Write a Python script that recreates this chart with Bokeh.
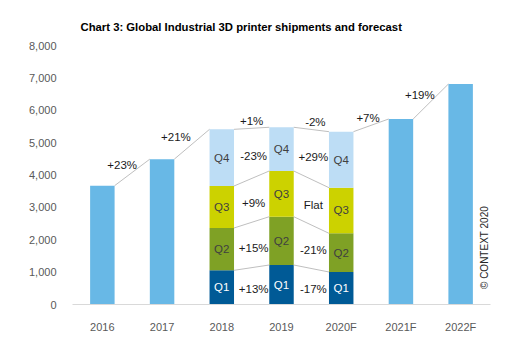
import numpy as np
from bokeh.plotting import figure
from bokeh.models import Range1d, FixedTicker, Label, ColumnDataSource
from bokeh.core.properties import value
from bokeh.embed import file_html
from bokeh.resources import INLINE

# ---- data ----
years = ["2016", "2017", "2018", "2019", "2020F", "2021F", "2022F"]
annual_years = ["2016", "2017", "2021F", "2022F"]
annual_values = [3670, 4490, 5730, 6810]
quarter_years = ["2018", "2019", "2020F"]
q1 = [1056, 1220, 1004]
q2 = [1307, 1492, 1195]
q3 = [1297, 1412, 1409]
q4 = [1751, 1350, 1730]
quarter_names = ["Q1", "Q2", "Q3", "Q4"]
yoy_labels = ["+23%", "+21%", "+1%", "-2%", "+7%", "+19%"]
q_change_2019 = ["+13%", "+15%", "+9%", "-23%"]
q_change_2020 = ["-17%", "-21%", "Flat", "+29%"]
y_ticks = [0, 1000, 2000, 3000, 4000, 5000, 6000, 7000, 8000]
title_text = "Chart 3: Global Industrial 3D printer shipments and forecast"
copyright_text = "\u00a9 CONTEXT 2020"

# ---- style ----
FONT = "Liberation Sans"
C_ANNUAL = "#68B8E6"
Q_COLORS = ["#005A96", "#7FA125", "#CCD200", "#BDDDF5"]
Q_TEXT = ["#FFFFFF", "#404040", "#404040", "#404040"]
W = 0.41
yoy_dx = [-10, -16, 0, 4, -3, -11]  # pixel nudges for the growth labels

xi = {y: i for i, y in enumerate(years)}

p = figure(width=530, height=350, output_backend="svg", toolbar_location=None,
           x_range=Range1d(-0.5, 6.5), y_range=Range1d(0, 8000),
           min_border_left=72, min_border_right=40, min_border_top=45,
           min_border_bottom=46, outline_line_color=None,
           background_fill_color="white", border_fill_color="white")
p.grid.visible = False

p.title.text = title_text
p.title.align = "left"
p.title.offset = 8
p.title.standoff = 26
p.title.text_font = FONT
p.title.text_font_size = "11.3px"
p.title.text_font_style = "bold"
p.title.text_color = "#000000"

# annual bars
p.vbar(x=[xi[y] for y in annual_years], top=annual_values, width=W,
       color=C_ANNUAL, line_color=None)

# stacked quarterly bars
qs = np.array([q1, q2, q3, q4], dtype=float)
cum = np.vstack([np.zeros(len(quarter_years)), np.cumsum(qs, axis=0)])
qx = [xi[y] for y in quarter_years]
for k in range(4):
    p.vbar(x=qx, bottom=cum[k], top=cum[k + 1], width=W,
           color=Q_COLORS[k], line_color=None)
    p.text(x=qx, y=(cum[k] + cum[k + 1]) / 2, text=[quarter_names[k]] * len(qx),
           text_font=value(FONT), text_font_size="11.5px", text_color=Q_TEXT[k],
           text_align="center", text_baseline="middle")

# totals per year
totals = {}
for y, v in zip(annual_years, annual_values):
    totals[y] = v
for j, y in enumerate(quarter_years):
    totals[y] = cum[4][j]
tot = [totals[y] for y in years]

# connector lines between totals
LC = "#BFBFBF"
for i in range(len(years) - 1):
    p.line([i + W / 2, i + 1 - W / 2], [tot[i], tot[i + 1]], line_color=LC, line_width=1)
# connector lines between quarter boundaries
for j in range(len(quarter_years) - 1):
    for k in range(1, 4):
        p.line([qx[j] + W / 2, qx[j + 1] - W / 2], [cum[k][j], cum[k][j + 1]],
               line_color=LC, line_width=1)

# growth labels
for i in range(len(years) - 1):
    p.text(x=[i + 0.5], y=[(tot[i] + tot[i + 1]) / 2], text=[yoy_labels[i]],
           x_offset=yoy_dx[i], y_offset=-7,
           text_font=value(FONT), text_font_size="11.5px", text_color="#1a1a1a",
           text_align="center", text_baseline="middle")

# quarter change labels
for j, labs in enumerate([q_change_2019, q_change_2020]):
    mids_a = (cum[:-1, j] + cum[1:, j]) / 2
    mids_b = (cum[:-1, j + 1] + cum[1:, j + 1]) / 2
    p.text(x=[qx[j] + 0.5] * 4, y=list((mids_a + mids_b) / 2), text=labs,
           x_offset=2, y_offset=3,
           text_font=value(FONT), text_font_size="11.5px", text_color="#1a1a1a",
           text_align="center", text_baseline="middle")

# axes
p.xaxis.ticker = FixedTicker(ticks=list(range(len(years))))
p.xaxis.major_label_overrides = {i: y for i, y in enumerate(years)}
p.xaxis.axis_line_color = "#D9D9D9"
p.xaxis.major_tick_line_color = None
p.xaxis.minor_tick_line_color = None
p.xaxis.major_label_standoff = 10
p.xaxis.major_label_text_font = FONT
p.xaxis.major_label_text_font_size = "11px"
p.xaxis.major_label_text_color = "#595959"

p.yaxis.ticker = FixedTicker(ticks=y_ticks)
p.yaxis.major_label_overrides = {t: f"{t:,}" for t in y_ticks}
p.yaxis.axis_line_color = None
p.yaxis.major_tick_line_color = None
p.yaxis.minor_tick_line_color = None
p.yaxis.major_label_standoff = 10
p.yaxis.major_label_text_font = FONT
p.yaxis.major_label_text_font_size = "11px"
p.yaxis.major_label_text_color = "#595959"

# copyright
p.add_layout(Label(x=6.4, y=1760, text=copyright_text, text_font=FONT,
                   text_font_size="10px", text_color="#262626", angle=np.pi / 2,
                   text_align="center", text_baseline="middle"))

open("out.html", "w").write(file_html(p, INLINE))
